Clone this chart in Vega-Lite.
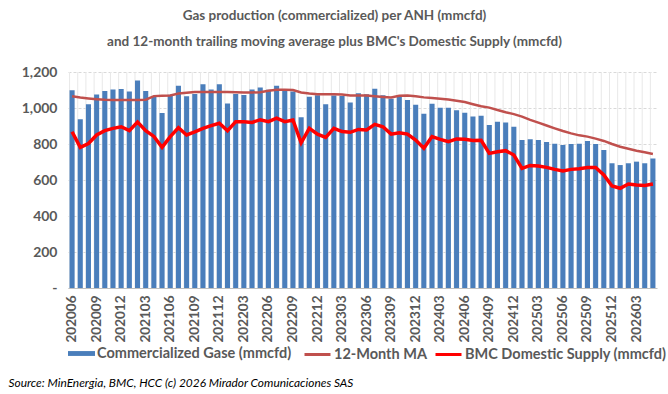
{
  "$schema": "https://vega.github.io/schema/vega-lite/v6.json",
  "autosize": "none",
  "width": 589,
  "height": 216,
  "padding": {"left": 68, "top": 72, "right": 11, "bottom": 106},
  "background": "white",
  "title": {
    "text": "Gas production (commercialized) per ANH (mmcfd)",
    "subtitle": "and 12-month trailing moving average plus BMC's Domestic Supply (mmcfd)",
    "font": "Lato",
    "fontSize": 13.5,
    "fontWeight": "bold",
    "color": "#595959",
    "subtitleFont": "Lato",
    "subtitleFontSize": 13.5,
    "subtitleFontWeight": "bold",
    "subtitleColor": "#595959",
    "subtitlePadding": 12,
    "anchor": "middle",
    "dx": -28,
    "offset": 17
  },
  "config": {
    "view": {"stroke": null},
    "axis": {"labelFont": "Lato", "labelFontWeight": "bold", "labelColor": "#595959", "labelFontSize": 13},
    "axisY": {"labelOverlap": false, "labelSeparation": 0, "labelBound": false},
    "legend": {"labelFont": "Lato", "labelFontWeight": "bold", "labelColor": "#595959", "labelFontSize": 14.5, "labelLimit": 400, "padding": 0}
  },
  "data": {
    "values": [
      {"month": "202006", "gas": 1099, "ma": 1065, "bmc": 868},
      {"month": "202007", "gas": 937, "ma": 1058, "bmc": 781},
      {"month": "202008", "gas": 1021, "ma": 1053, "bmc": 803},
      {"month": "202009", "gas": 1075, "ma": 1049, "bmc": 850},
      {"month": "202010", "gas": 1095, "ma": 1046, "bmc": 874},
      {"month": "202011", "gas": 1103, "ma": 1045, "bmc": 887},
      {"month": "202012", "gas": 1106, "ma": 1045, "bmc": 896},
      {"month": "202101", "gas": 1092, "ma": 1044, "bmc": 874},
      {"month": "202102", "gas": 1153, "ma": 1044, "bmc": 922},
      {"month": "202103", "gas": 1095, "ma": 1046, "bmc": 874},
      {"month": "202104", "gas": 1066, "ma": 1066, "bmc": 842},
      {"month": "202105", "gas": 972, "ma": 1068, "bmc": 781},
      {"month": "202106", "gas": 1074, "ma": 1070, "bmc": 841},
      {"month": "202107", "gas": 1124, "ma": 1080, "bmc": 890},
      {"month": "202108", "gas": 1065, "ma": 1085, "bmc": 850},
      {"month": "202109", "gas": 1078, "ma": 1089, "bmc": 868},
      {"month": "202110", "gas": 1132, "ma": 1089, "bmc": 887},
      {"month": "202111", "gas": 1103, "ma": 1089, "bmc": 902},
      {"month": "202112", "gas": 1132, "ma": 1089, "bmc": 915},
      {"month": "202201", "gas": 1025, "ma": 1089, "bmc": 874},
      {"month": "202202", "gas": 1078, "ma": 1088, "bmc": 924},
      {"month": "202203", "gas": 1072, "ma": 1086, "bmc": 924},
      {"month": "202204", "gas": 1103, "ma": 1086, "bmc": 920},
      {"month": "202205", "gas": 1114, "ma": 1088, "bmc": 935},
      {"month": "202206", "gas": 1102, "ma": 1096, "bmc": 924},
      {"month": "202207", "gas": 1123, "ma": 1102, "bmc": 943},
      {"month": "202208", "gas": 1100, "ma": 1102, "bmc": 924},
      {"month": "202209", "gas": 1092, "ma": 1100, "bmc": 933},
      {"month": "202210", "gas": 949, "ma": 1086, "bmc": 807},
      {"month": "202211", "gas": 1062, "ma": 1080, "bmc": 887},
      {"month": "202212", "gas": 1071, "ma": 1076, "bmc": 855},
      {"month": "202301", "gas": 1021, "ma": 1076, "bmc": 837},
      {"month": "202302", "gas": 1070, "ma": 1076, "bmc": 887},
      {"month": "202303", "gas": 1066, "ma": 1075, "bmc": 869},
      {"month": "202304", "gas": 1031, "ma": 1070, "bmc": 865},
      {"month": "202305", "gas": 1082, "ma": 1070, "bmc": 881},
      {"month": "202306", "gas": 1076, "ma": 1069, "bmc": 878},
      {"month": "202307", "gas": 1107, "ma": 1065, "bmc": 909},
      {"month": "202308", "gas": 1071, "ma": 1061, "bmc": 896},
      {"month": "202309", "gas": 1051, "ma": 1058, "bmc": 855},
      {"month": "202310", "gas": 1062, "ma": 1068, "bmc": 863},
      {"month": "202311", "gas": 1045, "ma": 1069, "bmc": 855},
      {"month": "202312", "gas": 1018, "ma": 1065, "bmc": 822},
      {"month": "202401", "gas": 968, "ma": 1059, "bmc": 776},
      {"month": "202402", "gas": 1024, "ma": 1056, "bmc": 841},
      {"month": "202403", "gas": 1002, "ma": 1052, "bmc": 826},
      {"month": "202404", "gas": 1002, "ma": 1047, "bmc": 813},
      {"month": "202405", "gas": 988, "ma": 1040, "bmc": 828},
      {"month": "202406", "gas": 974, "ma": 1033, "bmc": 826},
      {"month": "202407", "gas": 953, "ma": 1021, "bmc": 819},
      {"month": "202408", "gas": 957, "ma": 1010, "bmc": 821},
      {"month": "202409", "gas": 906, "ma": 1002, "bmc": 748},
      {"month": "202410", "gas": 924, "ma": 989, "bmc": 757},
      {"month": "202411", "gas": 920, "ma": 976, "bmc": 763},
      {"month": "202412", "gas": 896, "ma": 966, "bmc": 739},
      {"month": "202501", "gas": 822, "ma": 952, "bmc": 665},
      {"month": "202502", "gas": 826, "ma": 934, "bmc": 681},
      {"month": "202503", "gas": 822, "ma": 919, "bmc": 678},
      {"month": "202504", "gas": 811, "ma": 903, "bmc": 670},
      {"month": "202505", "gas": 802, "ma": 887, "bmc": 659},
      {"month": "202506", "gas": 794, "ma": 872, "bmc": 650},
      {"month": "202507", "gas": 800, "ma": 859, "bmc": 659},
      {"month": "202508", "gas": 802, "ma": 848, "bmc": 663},
      {"month": "202509", "gas": 817, "ma": 841, "bmc": 670},
      {"month": "202510", "gas": 800, "ma": 830, "bmc": 670},
      {"month": "202511", "gas": 767, "ma": 817, "bmc": 628},
      {"month": "202512", "gas": 693, "ma": 800, "bmc": 567},
      {"month": "202601", "gas": 683, "ma": 785, "bmc": 554},
      {"month": "202602", "gas": 693, "ma": 774, "bmc": 578},
      {"month": "202603", "gas": 702, "ma": 763, "bmc": 572},
      {"month": "202604", "gas": 693, "ma": 754, "bmc": 570},
      {"month": "202605", "gas": 719, "ma": 745, "bmc": 578}
    ]
  },
  "layer": [
    {
      "mark": {"type": "rule", "color": "#e8e8e8", "strokeWidth": 1},
      "encoding": {
        "x": {
          "field": "month",
          "type": "nominal",
          "sort": null,
          "bandPosition": 0,
          "scale": {"type": "band", "paddingInner": 0.38, "paddingOuter": 0.19},
          "axis": {
            "orient": "bottom",
            "labelAngle": -90,
            "labelExpr": "(toNumber(datum.value) % 100) % 3 == 0 ? datum.value : ''",
            "labelOverlap": false,
            "labelPadding": 7,
            "labelFontSize": 13.5,
            "ticks": false,
            "grid": false,
            "domain": true,
            "domainColor": "#bfbfbf",
            "domainWidth": 1,
            "title": "Source: MinEnergia, BMC, HCC (c) 2026 Mirador Comunicaciones SAS",
            "titleFont": "Lato",
            "titleFontStyle": "italic",
            "titleFontWeight": "normal",
            "titleFontSize": 11.9,
            "titleColor": "#000000",
            "titleAlign": "left",
            "titleAnchor": "start",
            "titleBaseline": "middle",
            "titleX": -60,
            "titleY": 94
          }
        }
      }
    },
    {
      "mark": {"type": "bar"},
      "encoding": {
        "x": {"field": "month", "type": "nominal", "sort": null},
        "y": {
          "field": "gas",
          "type": "quantitative",
          "scale": {"domain": [0, 1200], "nice": false},
          "axis": {
            "values": [0, 200, 400, 600, 800, 1000, 1200],
            "tickCount": 7,
            "labelExpr": "datum.value == 0 ? '-\u00a0\u00a0\u00a0' : format(datum.value, ',')",
            "labelOverlap": false,
            "labelPadding": 11,
            "labelFontSize": 14,
            "domain": false,
            "ticks": false,
            "grid": true,
            "gridColor": "#d9d9d9",
            "gridDash": [3, 2],
            "title": null
          }
        },
        "fill": {
          "datum": "Commercialized Gase (mmcfd)",
          "scale": {"range": ["#4a7ebb"]},
          "legend": {
            "orient": "none",
            "legendX": 0,
            "legendY": 268,
            "title": null,
            "symbolType": "M-1,-0.18H1V0.18H-1Z",
            "symbolSize": 729,
            "symbolStrokeWidth": 0,
            "labelOffset": 2
          }
        }
      }
    },
    {
      "mark": {"type": "line", "strokeWidth": 2.5},
      "encoding": {
        "x": {"field": "month", "type": "nominal", "sort": null},
        "y": {"field": "ma", "type": "quantitative"},
        "stroke": {
          "datum": "12-Month MA",
          "scale": {"domain": ["12-Month MA", "BMC Domestic Supply (mmcfd)"], "range": ["#c0504d", "#ff0000"]},
          "legend": {
            "orient": "none",
            "direction": "horizontal",
            "legendX": 235,
            "legendY": 268,
            "title": null,
            "symbolType": "stroke",
            "symbolSize": 676,
            "symbolStrokeWidth": 3,
            "labelOffset": 2,
            "columnPadding": 2
          }
        }
      }
    },
    {
      "mark": {"type": "line", "strokeWidth": 3.5},
      "encoding": {
        "x": {"field": "month", "type": "nominal", "sort": null},
        "y": {"field": "bmc", "type": "quantitative"},
        "stroke": {"datum": "BMC Domestic Supply (mmcfd)"}
      }
    }
  ]
}
